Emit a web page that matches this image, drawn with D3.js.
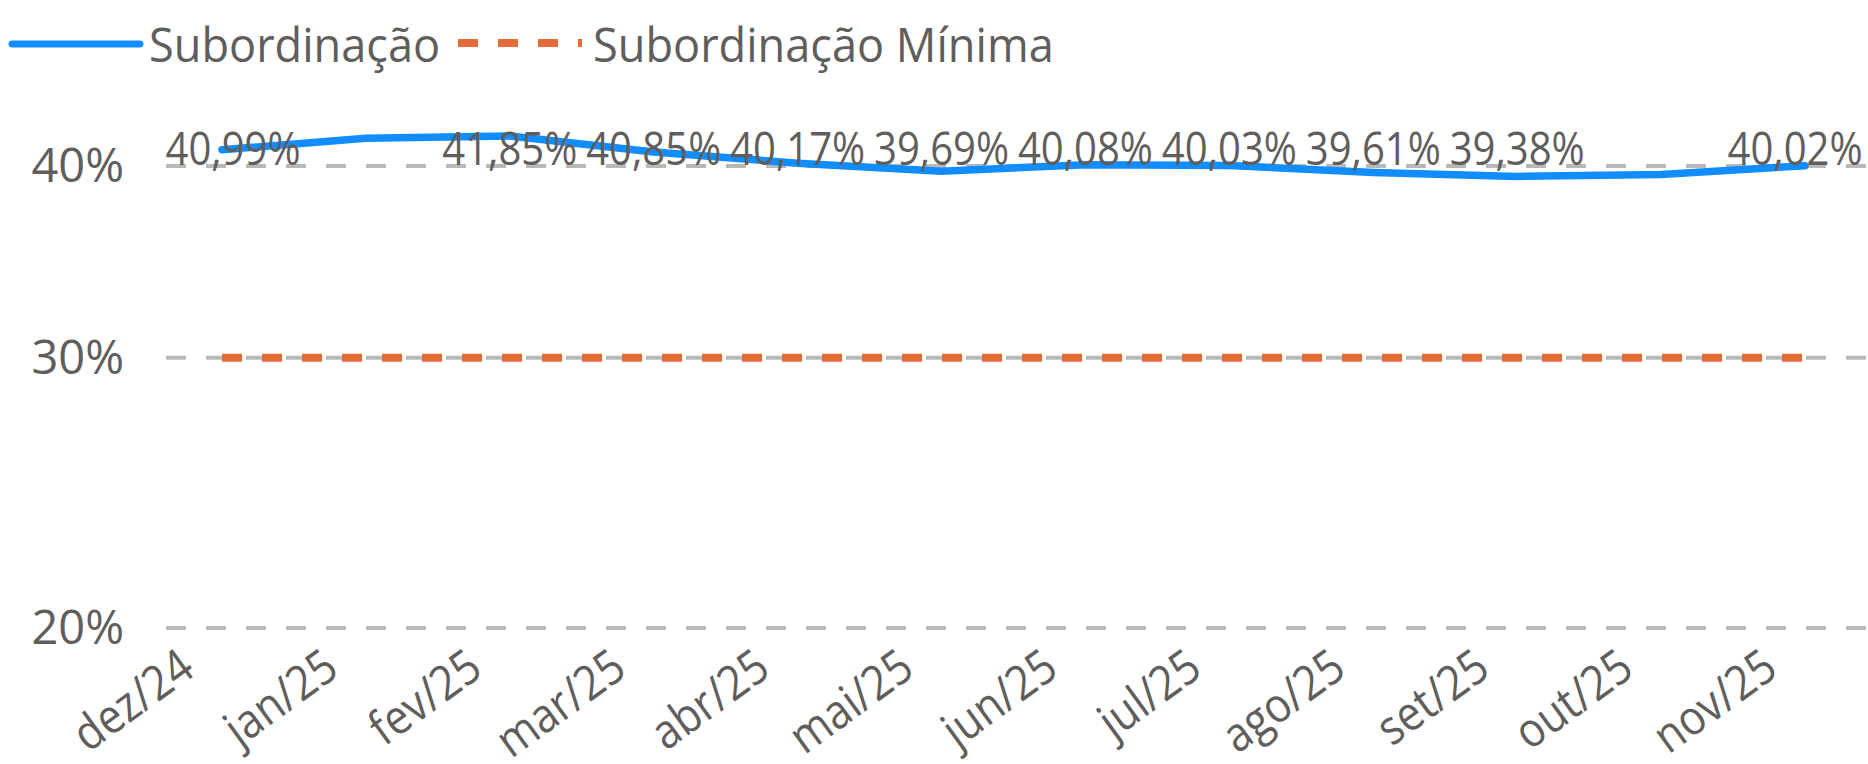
<!DOCTYPE html>
<html>
<head>
<meta charset="utf-8">
<script src="https://cdn.jsdelivr.net/npm/d3@7"></script>
<style>
  html, body { margin: 0; padding: 0; background: #ffffff; }
  svg { display: block; }
  text { font-family: "Open Sans", "Noto Sans", sans-serif; fill: #605E5C; }
</style>
</head>
<body>
<svg id="chart" width="1868" height="764"></svg>
<script>
// Monthly subordination ratio vs. the contractual minimum
const months = ["dez/24", "jan/25", "fev/25", "mar/25", "abr/25", "mai/25",
                "jun/25", "jul/25", "ago/25", "set/25", "out/25", "nov/25"];
const subordinacao = [0.4099, 0.4170, 0.4185, 0.4085, 0.4017, 0.3969,
                      0.4008, 0.4003, 0.3961, 0.3938, 0.3950, 0.4002];
const subordinacaoMinima = [0.30, 0.30, 0.30, 0.30, 0.30, 0.30,
                            0.30, 0.30, 0.30, 0.30, 0.30, 0.30];
// data labels shown per month (two are hidden where they would collide)
const showLabel = [true, false, true, true, true, true,
                   true, true, true, true, false, true];
const yTicks = [0.2, 0.3, 0.4];
const yTickLabels = ["20%", "30%", "40%"];
const seriesNames = ["Subordinação", "Subordinação Mínima"];

const BLUE = "#118DFF", ORANGE = "#E66C37", GRID = "#B8B8B8";

const svg = d3.select("#chart");
const plotLeft = 166, plotRight = 1868;

const x = d3.scalePoint().domain(months).range([222, 1805]);
const y = d3.scaleLog().domain([0.2, 0.4254]).range([628, 125]);

// horizontal dashed gridlines
svg.append("g").selectAll("line").data(yTicks).join("line")
  .attr("x1", plotLeft).attr("x2", plotRight)
  .attr("y1", d => y(d)).attr("y2", d => y(d))
  .attr("stroke", GRID).attr("stroke-width", 4)
  .attr("stroke-dasharray", "20 20");

// y axis labels
svg.append("g").selectAll("text").data(yTicks).join("text")
  .attr("x", 124).attr("y", d => y(d) + 16)
  .attr("text-anchor", "end")
  .style("font-size", "47px")
  .text((d, i) => yTickLabels[i]);

// minimum level (dashed)
const line = d3.line().x((d, i) => x(months[i])).y(d => y(d));
svg.append("path").datum(subordinacaoMinima)
  .attr("d", line)
  .attr("fill", "none").attr("stroke", ORANGE)
  .attr("stroke-width", 8).attr("stroke-dasharray", "20 20");

// subordination series
svg.append("path").datum(subordinacao)
  .attr("d", line)
  .attr("fill", "none").attr("stroke", BLUE)
  .attr("stroke-width", 7.5)
  .attr("stroke-linejoin", "round").attr("stroke-linecap", "round");

// data labels, kept inside the plot area horizontally
const fmt = v => (v * 100).toFixed(2).replace(".", ",") + "%";
const labelW = 134, labelScale = 0.89;
svg.append("g").selectAll("g")
  .data(subordinacao.map((v, i) => ({ v, m: months[i], show: showLabel[i] })).filter(d => d.show))
  .join("g")
  .attr("transform", d => {
    const cx = Math.max(plotLeft + labelW / 2, Math.min(1862 - labelW / 2, x(d.m)));
    return `translate(${cx},165) scale(${labelScale},1)`;
  })
  .append("text")
  .attr("text-anchor", "middle")
  .style("font-size", "45px")
  .text(d => fmt(d.v));

// x axis labels, rotated
svg.append("g").selectAll("text").data(months).join("text")
  .attr("text-anchor", "end")
  .attr("transform", d => `translate(${x(d) - 25},674) rotate(-36) scale(0.89,1)`)
  .style("font-size", "48px")
  .text(d => d);

// legend
const legend = svg.append("g");
legend.append("line")
  .attr("x1", 12).attr("x2", 140).attr("y1", 44).attr("y2", 44)
  .attr("stroke", BLUE).attr("stroke-width", 7).attr("stroke-linecap", "round");
legend.append("g").attr("transform", "translate(149,62) scale(0.94,1)")
  .append("text").style("font-size", "48px").text(seriesNames[0]);
legend.append("line")
  .attr("x1", 458).attr("x2", 582).attr("y1", 43).attr("y2", 43)
  .attr("stroke", ORANGE).attr("stroke-width", 8).attr("stroke-dasharray", "20 20");
legend.append("g").attr("transform", "translate(593,62) scale(0.94,1)")
  .append("text").style("font-size", "48px").text(seriesNames[1]);
</script>
</body>
</html>
